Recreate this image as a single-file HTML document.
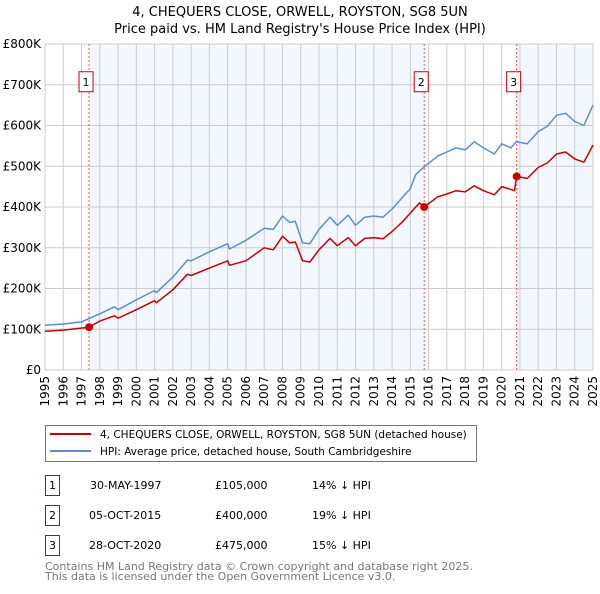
<!DOCTYPE html>
<html><head><meta charset="utf-8"><style>
body{margin:0;background:#fff;font-family:"DejaVu Sans","Liberation Sans",sans-serif;}
svg text{font-family:"DejaVu Sans","Liberation Sans",sans-serif;}
</style></head><body>
<svg id="chart" width="600" height="590" xmlns="http://www.w3.org/2000/svg">
<text x="300" y="16" text-anchor="middle" font-size="13">4, CHEQUERS CLOSE, ORWELL, ROYSTON, SG8 5UN</text>
<text x="300" y="33" text-anchor="middle" font-size="13">Price paid vs. HM Land Registry's House Price Index (HPI)</text>
<g id="plot"></g>
<g>
<rect x="45.5" y="425.5" width="431" height="36" fill="#fff" stroke="#777"/>
<line x1="50" y1="434" x2="91" y2="434" stroke="#cc0000" stroke-width="2"/>
<text x="100" y="438" font-size="10.5">4, CHEQUERS CLOSE, ORWELL, ROYSTON, SG8 5UN (detached house)</text>
<line x1="50" y1="451" x2="91" y2="451" stroke="#5b8fd4" stroke-width="2"/>
<text x="100" y="455" font-size="10.5">HPI: Average price, detached house, South Cambridgeshire</text>
</g>
<g font-size="11">
<rect x="45.5" y="475.5" width="14" height="20" fill="#fff" stroke="#cc0000"/><text x="52.5" y="489" text-anchor="middle">1</text>
<text x="90" y="489">30-MAY-1997</text><text x="215" y="489">£105,000</text><text x="312" y="489">14% ↓ HPI</text>
<rect x="45.5" y="505.5" width="14" height="20" fill="#fff" stroke="#cc0000"/><text x="52.5" y="519" text-anchor="middle">2</text>
<text x="89" y="519">05-OCT-2015</text><text x="215" y="519">£400,000</text><text x="312" y="519">19% ↓ HPI</text>
<rect x="45.5" y="535.5" width="14" height="20" fill="#fff" stroke="#cc0000"/><text x="52.5" y="549" text-anchor="middle">3</text>
<text x="89" y="549">28-OCT-2020</text><text x="215" y="549">£475,000</text><text x="312" y="549">15% ↓ HPI</text>
</g>
<text x="45" y="570" font-size="11" fill="#777">Contains HM Land Registry data © Crown copyright and database right 2025.</text>
<text x="45" y="580" font-size="11" fill="#777">This data is licensed under the Open Government Licence v3.0.</text>
</svg>
<script>
const hpiYears=[1995,1996,1997,1998,1998.8,1999,2000,2001,2001.1,2002,2002.8,2003,2004,2005,2005.1,2006,2007,2007.5,2008,2008.4,2008.7,2009.1,2009.5,2010,2010.6,2011,2011.6,2012,2012.5,2013,2013.5,2014,2014.6,2015,2015.3,2015.8,2016.5,2017,2017.5,2018,2018.5,2019,2019.6,2020,2020.5,2020.8,2021.4,2022,2022.5,2023,2023.5,2024,2024.5,2025];
const hpiValues=[110,113,118,138,155,148,172,195,190,228,270,268,290,310,297,318,348,345,378,362,365,312,310,345,375,355,380,355,375,378,375,395,425,445,480,500,525,535,545,540,560,545,530,555,545,560,555,585,598,625,630,610,600,650];
const priceYears=[1995,1996,1997.4,1998,1998.8,1999,2000,2001,2001.1,2002,2002.8,2003,2004,2005,2005.1,2006,2007,2007.5,2008,2008.4,2008.7,2009.1,2009.5,2010,2010.6,2011,2011.6,2012,2012.5,2013,2013.5,2014,2014.6,2015,2015.5,2015.76,2016.5,2017,2017.5,2018,2018.5,2019,2019.6,2020,2020.7,2020.82,2021.4,2022,2022.5,2023,2023.5,2024,2024.5,2025];
const priceValues=[95,98,105,120,133,127,148,170,165,197,235,232,250,268,257,268,300,295,328,312,314,268,265,295,323,305,325,305,323,325,322,340,365,385,410,400,425,432,440,437,452,440,430,450,440,475,470,497,508,530,535,518,510,552];
const saleYears=[1997.41,2015.76,2020.82];
const saleValues=[105,400,475];
const saleLabels=["1","2","3"];
const yTicks=[0,100,200,300,400,500,600,700,800];
const yTickLabels=["£0","£100K","£200K","£300K","£400K","£500K","£600K","£700K","£800K"];
const xTicks=[1995,1996,1997,1998,1999,2000,2001,2002,2003,2004,2005,2006,2007,2008,2009,2010,2011,2012,2013,2014,2015,2016,2017,2018,2019,2020,2021,2022,2023,2024,2025];

const X0=45,X1=593,Y0=370,Y1=44;
const xs=v=>X0+(v-1995)/30*(X1-X0);
const ys=v=>Y0-v/800*(Y0-Y1);
const NS="http://www.w3.org/2000/svg";
const g=document.getElementById('plot');
function mk(t,a){const e=document.createElementNS(NS,t);for(const k in a)e.setAttribute(k,a[k]);g.appendChild(e);return e;}
const shade1=mk('rect',{x:xs(saleYears[0]),y:Y1,width:xs(saleYears[1])-xs(saleYears[0]),height:Y0-Y1,fill:'#eef3fd',opacity:0.7});


const shade2=mk('rect',{x:xs(saleYears[2]),y:Y1,width:X1-xs(saleYears[2]),height:Y0-Y1,fill:'#eef3fd',opacity:0.7});


yTicks.forEach((t,i)=>{
 const l=mk('line',{x1:X0,x2:X1,y1:ys(t),y2:ys(t),stroke:'#cccccc','stroke-width':1});
 
 
 const tx=mk('text',{x:41,y:ys(t)+4,'text-anchor':'end','font-size':12});
 tx.textContent=yTickLabels[i];
 
 
});
xTicks.forEach(t=>{
 const l=mk('line',{x1:xs(t),x2:xs(t),y1:Y1,y2:Y0,stroke:'#cccccc','stroke-width':1});
 
 
 const tx=mk('text',{x:0,y:0,'text-anchor':'end','font-size':12,transform:`translate(${xs(t)+4},376) rotate(-90)`});
 tx.textContent=String(t);
 
 
});
const frame=mk('rect',{x:X0,y:Y1,width:X1-X0,height:Y0-Y1,fill:'none',stroke:'#cccccc'});


saleYears.forEach((s,i)=>{
 const l=mk('line',{x1:xs(s),x2:xs(s),y1:Y1,y2:Y0,stroke:'#ff5555','stroke-width':1,'stroke-dasharray':'2,2'});
 
 
 const r=mk('rect',{x:xs(s)-10,y:ys(700)-13,width:14,height:20,fill:'#fff',stroke:'#cc0000'});
 
 
 const t=mk('text',{x:xs(s)-3,y:ys(700)+1,'text-anchor':'middle','font-size':11});
 t.textContent=saleLabels[i];
 
 
});
function path(xa,va,c,name){
 const d=xa.map((x,i)=>(i?'L':'M')+xs(x).toFixed(1)+','+ys(va[i]).toFixed(1)).join('');
 const p=mk('path',{d:d,fill:'none',stroke:c,'stroke-width':1.5,'stroke-linejoin':'round'});
 
 
}
path(hpiYears,hpiValues,'#5b8fd4','hpi-line');
path(priceYears,priceValues,'#cc0000','price-paid-line');
saleYears.forEach((s,i)=>{
 const c=mk('circle',{cx:xs(s),cy:ys(saleValues[i]),r:4,fill:'#cc0000'});
 
 
});
</script>
</body></html>
